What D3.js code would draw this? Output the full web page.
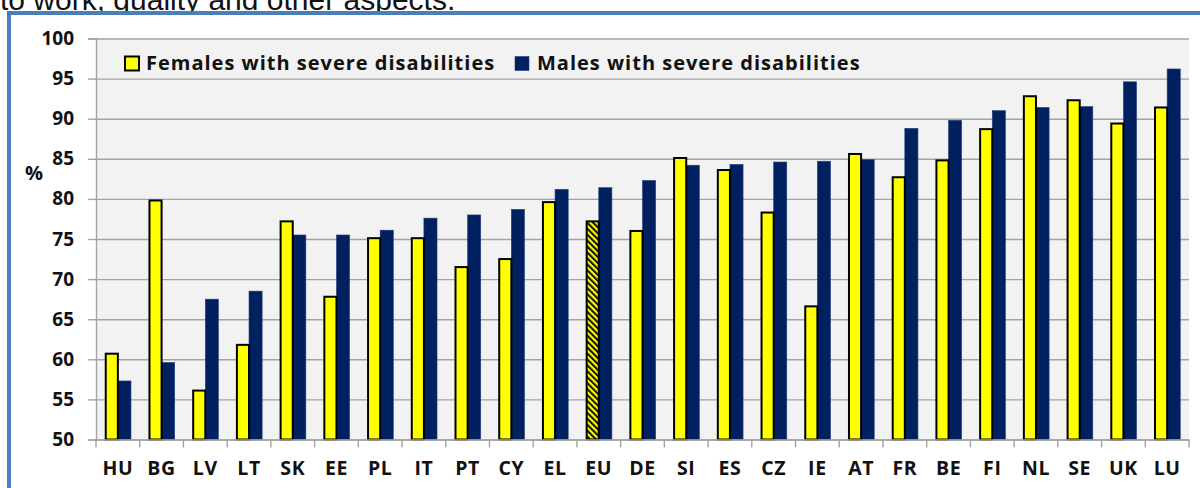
<!DOCTYPE html>
<html>
<head>
<meta charset="utf-8">
<script src="https://cdn.jsdelivr.net/npm/d3@7"></script>
<style>
  body { margin: 0; background: #fff; }
  svg { display: block; }
</style>
</head>
<body>
<svg id="chart" width="1200" height="488"></svg>
<script>
// Employment rate by country, people with severe disabilities (%)
const countries = ["HU","BG","LV","LT","SK","EE","PL","IT","PT","CY","EL","EU","DE","SI","ES","CZ","IE","AT","FR","BE","FI","NL","SE","UK","LU"];
const females = [60.7,79.8,56.1,61.8,77.2,67.8,75.1,75.1,71.5,72.5,79.6,77.2,76.0,85.1,83.6,78.3,66.6,85.6,82.7,84.8,88.7,92.8,92.3,89.4,91.4];
const males   = [57.3,59.6,67.5,68.5,75.5,75.5,76.1,77.6,78.0,78.7,81.2,81.4,82.3,84.2,84.3,84.6,84.7,84.9,88.8,89.8,91.0,91.4,91.5,94.6,96.2];
const yTicks = [50,55,60,65,70,75,80,85,90,95,100];
const seriesNames = ["Females with severe disabilities","Males with severe disabilities"];
const highlight = "EU";

const svg = d3.select("#chart");
const W = 1200, H = 488;
const plot = { left: 96, right: 1189, top: 38.5, bottom: 439.5 };
const boldFont = "'Open Sans', 'DejaVu Sans', sans-serif";
const YELLOW = "#FFFF00", NAVY = "#002060", GRID = "#A3A3A3";

// hatch used for the EU aggregate bar
const defs = svg.append("defs");
const pat = defs.append("pattern")
  .attr("id", "hatch").attr("patternUnits", "userSpaceOnUse")
  .attr("width", 4.2).attr("height", 4.2)
  .attr("patternTransform", "rotate(-45)");
pat.append("rect").attr("width", 4.2).attr("height", 4.2).attr("fill", YELLOW);
pat.append("line").attr("x1", 1).attr("y1", 0).attr("x2", 1).attr("y2", 4.2)
  .attr("stroke", "#111").attr("stroke-width", 2.1);

// heading line above the chart frame
svg.append("text")
  .attr("x", 0).attr("y", 10)
  .attr("font-family", "'Liberation Sans', Arial, sans-serif")
  .attr("font-size", 30).attr("fill", "#111")
  .text("to work, quality and other aspects.");

// chart frame
svg.append("rect")
  .attr("x", 9).attr("y", 13).attr("width", W + 20).attr("height", H + 20)
  .attr("fill", "#fff").attr("stroke", "#4A7EBB").attr("stroke-width", 4);

const x = d3.scaleBand().domain(countries).range([plot.left, plot.right]).padding(0);
const bw = x.bandwidth();
const xs = d3.scaleBand().domain(["f","m"]).range([0.2 * bw, 0.8 * bw]).padding(0);
const y = d3.scaleLinear().domain([50, 100]).range([plot.bottom, plot.top]);

// plot background
svg.append("rect")
  .attr("x", plot.left).attr("y", y(100))
  .attr("width", plot.right - plot.left).attr("height", y(50) - y(100))
  .attr("fill", "#F2F2F2");

// horizontal gridlines
const grid = svg.append("g").attr("transform", `translate(${plot.left},0)`)
  .call(d3.axisLeft(y).tickValues(yTicks).tickSize(-(plot.right - plot.left)).tickFormat(""));
grid.select(".domain").remove();
grid.selectAll(".tick line").attr("stroke", GRID).attr("stroke-width", 1.4);

// y axis
const yAxis = svg.append("g").attr("transform", `translate(${plot.left},0)`)
  .call(d3.axisLeft(y).tickValues(yTicks).tickSize(8).tickPadding(14));
yAxis.select(".domain").attr("stroke", GRID).attr("stroke-width", 1.4);
yAxis.selectAll(".tick line").attr("stroke", GRID).attr("stroke-width", 1.4);
yAxis.selectAll(".tick text")
  .attr("font-family", boldFont).attr("font-weight", "bold")
  .attr("font-size", 19).attr("fill", "#111");

svg.append("text")
  .attr("x", 34).attr("y", 173).attr("dy", "0.35em").attr("text-anchor", "middle")
  .attr("font-family", boldFont).attr("font-weight", "bold")
  .attr("font-size", 20).attr("fill", "#111").text("%");

// bars
const groups = svg.append("g").selectAll("g")
  .data(countries.map((c, i) => ({ c, f: females[i], m: males[i] })))
  .join("g").attr("transform", d => `translate(${x(d.c)},0)`);

groups.append("rect")
  .attr("x", xs("m")).attr("width", xs.bandwidth())
  .attr("y", d => y(d.m)).attr("height", d => y(50) - y(d.m))
  .attr("fill", NAVY).attr("stroke", "#24407a").attr("stroke-width", 0.6);

groups.append("rect")
  .attr("x", xs("f") + 1).attr("width", xs.bandwidth() - 1)
  .attr("y", d => y(d.f)).attr("height", d => y(50) - y(d.f))
  .attr("fill", d => d.c === highlight ? "url(#hatch)" : YELLOW)
  .attr("stroke", "#000").attr("stroke-width", 2);

// x axis: baseline, boundary ticks and labels
const xAxis = svg.append("g").attr("transform", `translate(0,${plot.bottom})`)
  .call(d3.axisBottom(x).tickSize(0).tickPadding(22));
xAxis.select(".domain").attr("stroke", GRID).attr("stroke-width", 1.4);
xAxis.selectAll(".tick text")
  .attr("font-family", boldFont).attr("font-weight", "bold")
  .attr("font-size", 19.5).attr("letter-spacing", 0.6).attr("fill", "#111");
const bounds = countries.map(c => x(c)).concat([x(countries[countries.length - 1]) + bw]);
xAxis.selectAll("line.bound").data(bounds).join("line").attr("class", "bound")
  .attr("x1", d => d).attr("x2", d => d).attr("y1", 0).attr("y2", 8)
  .attr("stroke", GRID).attr("stroke-width", 1.4);

// legend
const legend = svg.append("g");
const legendItems = [
  { name: seriesNames[0], fill: YELLOW, stroke: "#000", sw: 2, x: 125, tx: 146 },
  { name: seriesNames[1], fill: NAVY, stroke: "#24407a", sw: 0.6, x: 515, tx: 537 }
];
legendItems.forEach(it => {
  legend.append("rect").attr("x", it.x).attr("y", 56.5).attr("width", 14).attr("height", 14)
    .attr("fill", it.fill).attr("stroke", it.stroke).attr("stroke-width", it.sw);
  legend.append("text").attr("x", it.tx).attr("y", 70)
    .attr("font-family", boldFont).attr("font-weight", "bold")
    .attr("font-size", 20).attr("letter-spacing", 1).attr("fill", "#111").text(it.name);
});
</script>
</body>
</html>
